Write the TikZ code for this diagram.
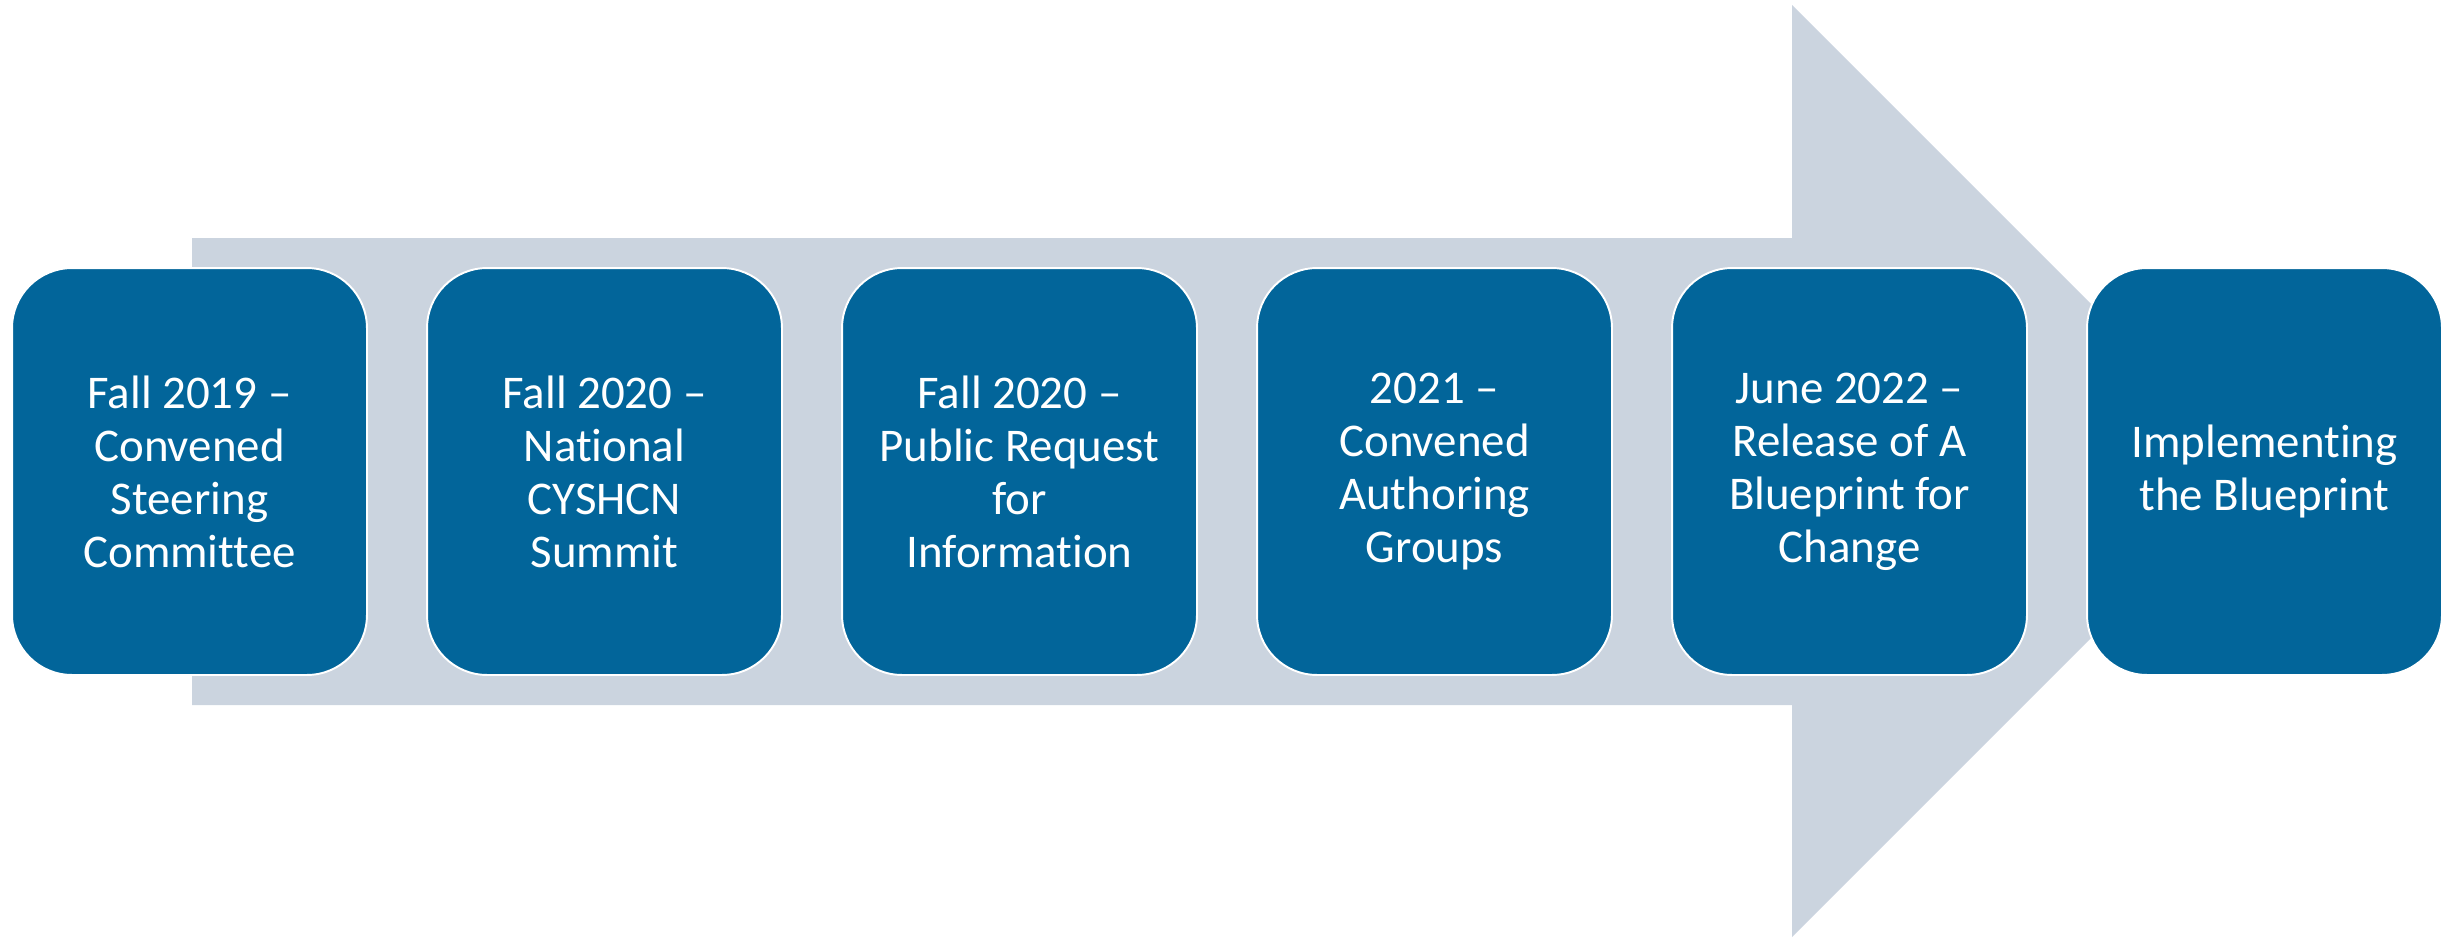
\documentclass[tikz,border=0pt]{standalone}
\usepackage{fontspec}
\setmainfont[Ligatures=NoCommon]{Carlito}
\usepackage{tikz}
\definecolor{stepblue}{HTML}{02659A}
\definecolor{arrowgray}{HTML}{CBD4DF}

\begin{document}
\begin{tikzpicture}[x=0.02cm,y=-0.02cm]
\useasboundingbox (0,0) rectangle (2450,940);
% big arrow behind the steps
\fill[arrowgray] (192,238) -- (1792,238) -- (1792,5) -- (2258,471)
  -- (1792,937) -- (1792,705) -- (192,705) -- cycle;
\begin{scope}[every node/.style={rectangle,rounded corners=1.2cm,draw=white,line width=1.1pt,
    fill=stepblue,text=white,align=center,minimum width=7.1cm,minimum height=8.14cm,
    font=\fontsize{26.7}{30.2}\selectfont}]
    \node (a) at (189.5,471.5) {Fall 2019 --\\Convened\\Steering\\Committee};
    \node (b) at (604.5,471.5) {Fall 2020 --\\National\\CYSHCN\\Summit};
    \node (c) at (1019.5,471.5) {Fall 2020 --\\Public Request\\for\\Information};
    \node (d) at (1434.5,471.5) {2021 --\\Convened\\Authoring\\Groups};
    \node (e) at (1849.5,471.5) {June 2022 --\\Release of A\\Blueprint for\\Change};
    \node (f) at (2264.5,471.5) {Implementing\\the Blueprint};
\end{scope}
\end{tikzpicture}
\end{document}
